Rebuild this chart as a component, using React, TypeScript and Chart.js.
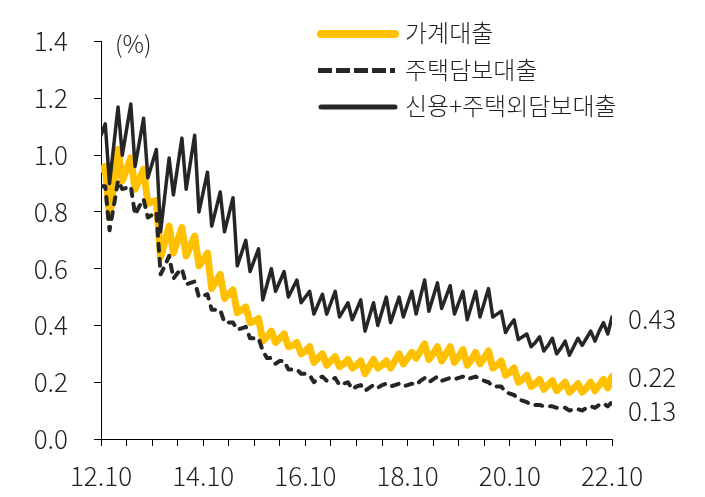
import React, { useEffect, useRef } from 'react';
import { Chart, registerables } from 'chart.js';

Chart.register(...registerables);

const seriesNames = ['가계대출', '주택담보대출', '신용+주택외담보대출'];
const xTickLabels = ['12.10', '14.10', '16.10', '18.10', '20.10', '22.10'];
const unitLabel = '(%)';

// monthly values, 2012.10 .. 2022.10
const household = [
  0.95, 0.96, 0.78,
  0.90, 1.02, 0.91, 0.95, 0.99, 0.88, 0.915, 0.95, 0.83,
  0.835, 0.84, 0.64, 0.695, 0.75, 0.655, 0.70, 0.745, 0.645, 0.68, 0.715, 0.61,
  0.63, 0.655, 0.53, 0.555, 0.58, 0.495, 0.51, 0.525, 0.445, 0.455, 0.465, 0.41,
  0.415, 0.425, 0.345, 0.36, 0.38, 0.34, 0.355, 0.37, 0.325, 0.33, 0.34, 0.30,
  0.31, 0.325, 0.27, 0.285, 0.30, 0.26, 0.275, 0.29, 0.255, 0.265, 0.28, 0.25,
  0.26, 0.275, 0.23, 0.255, 0.28, 0.25, 0.26, 0.275, 0.25, 0.275, 0.30, 0.265,
  0.285, 0.305, 0.285, 0.31, 0.335, 0.28, 0.30, 0.325, 0.275, 0.30, 0.325, 0.27,
  0.29, 0.315, 0.26, 0.28, 0.305, 0.265, 0.285, 0.31, 0.25, 0.26, 0.275, 0.225,
  0.235, 0.25, 0.20, 0.21, 0.225, 0.185, 0.195, 0.21, 0.175, 0.19, 0.205, 0.17,
  0.185, 0.20, 0.165, 0.18, 0.195, 0.165, 0.18, 0.20, 0.17, 0.19, 0.21, 0.18,
  0.22,
];

const mortgage = [
  0.89, 0.89, 0.735,
  0.82, 0.91, 0.88, 0.885, 0.89, 0.79, 0.82, 0.845, 0.78,
  0.79, 0.80, 0.58, 0.61, 0.645, 0.565, 0.585, 0.60, 0.545, 0.55, 0.555, 0.50,
  0.505, 0.51, 0.455, 0.455, 0.455, 0.41, 0.41, 0.41, 0.385, 0.39, 0.395, 0.355,
  0.355, 0.355, 0.31, 0.285, 0.285, 0.265, 0.275, 0.275, 0.245, 0.245, 0.245, 0.23,
  0.23, 0.225, 0.20, 0.215, 0.22, 0.205, 0.21, 0.215, 0.19, 0.195, 0.20, 0.175,
  0.185, 0.19, 0.17, 0.18, 0.19, 0.18, 0.19, 0.195, 0.185, 0.19, 0.195, 0.185,
  0.19, 0.195, 0.19, 0.205, 0.215, 0.20, 0.21, 0.22, 0.205, 0.21, 0.215, 0.21,
  0.215, 0.22, 0.21, 0.215, 0.22, 0.21, 0.205, 0.20, 0.185, 0.185, 0.185, 0.165,
  0.16, 0.155, 0.14, 0.135, 0.13, 0.12, 0.12, 0.12, 0.115, 0.115, 0.115, 0.11,
  0.11, 0.11, 0.10, 0.105, 0.105, 0.10, 0.11, 0.115, 0.11, 0.12, 0.125, 0.115,
  0.13,
];

const creditOther = [
  1.07, 1.11, 0.90,
  1.035, 1.17, 1.00, 1.09, 1.18, 0.96, 1.045, 1.13, 0.92,
  0.97, 1.02, 0.73, 0.86, 0.99, 0.86, 0.96, 1.06, 0.88, 0.975, 1.07, 0.80,
  0.87, 0.94, 0.75, 0.81, 0.87, 0.73, 0.79, 0.85, 0.61, 0.655, 0.70, 0.59,
  0.63, 0.67, 0.49, 0.545, 0.60, 0.52, 0.555, 0.59, 0.50, 0.53, 0.56, 0.48,
  0.50, 0.52, 0.44, 0.475, 0.51, 0.44, 0.48, 0.52, 0.43, 0.455, 0.48, 0.42,
  0.455, 0.49, 0.38, 0.43, 0.48, 0.40, 0.45, 0.50, 0.41, 0.455, 0.50, 0.43,
  0.475, 0.52, 0.44, 0.50, 0.56, 0.45, 0.50, 0.55, 0.46, 0.50, 0.54, 0.44,
  0.48, 0.52, 0.42, 0.47, 0.52, 0.43, 0.48, 0.53, 0.43, 0.44, 0.45, 0.375,
  0.40, 0.42, 0.35, 0.36, 0.37, 0.325, 0.34, 0.36, 0.31, 0.33, 0.355, 0.30,
  0.32, 0.345, 0.295, 0.325, 0.355, 0.33, 0.355, 0.38, 0.345, 0.38, 0.41, 0.37,
  0.43,
];

const seriesValues = [household, mortgage, creditOther];
const seriesColors = ['#FFC000', '#262626', '#262626'];

const FONT = "'Noto Sans CJK KR', 'Noto Sans', sans-serif";
const TEXT = '#231F20';

export default function App() {
  const ref = useRef<HTMLCanvasElement>(null);

  useEffect(() => {
    const canvas = ref.current;
    if (!canvas) return;

    const toPts = (arr: number[]) => arr.map((v, i) => ({ x: i, y: v }));

    const overlay = {
      id: 'overlay',
      afterDraw(chart: any) {
        const ctx = chart.ctx as CanvasRenderingContext2D;
        const xs = chart.scales.x;
        const ys = chart.scales.y;
        ctx.save();
        ctx.fillStyle = TEXT;
        ctx.textBaseline = 'middle';
        ctx.textAlign = 'left';

        // unit label
        ctx.font = `300 24px ${FONT}`;
        ctx.fillText(unitLabel, xs.left + 14, ys.top + 2);

        // end-value labels
        ctx.font = `300 26px ${FONT}`;
        const endOffsets = [1, 9, 2];
        seriesValues.forEach((arr, k) => {
          const last = arr[arr.length - 1];
          const y = ys.getPixelForValue(last) + endOffsets[k];
          ctx.fillText(last.toFixed(2), xs.right + 16, y);
        });

        // legend
        const legendX0 = 318;
        const legendX1 = 398;
        const rowY = [34, 70.5, 107];
        const legendWidths = [8, 5, 5];
        const legendDash = [[], [14, 4], []];
        ctx.font = `300 24px ${FONT}`;
        seriesNames.forEach((name, k) => {
          ctx.save();
          ctx.strokeStyle = seriesColors[k];
          ctx.lineWidth = legendWidths[k];
          ctx.lineCap = k === 1 ? 'butt' : 'round';
          ctx.setLineDash(legendDash[k]);
          ctx.beginPath();
          ctx.moveTo(legendX0 + (k === 1 ? 0 : 3), rowY[k]);
          ctx.lineTo(legendX1 - 3, rowY[k]);
          ctx.stroke();
          ctx.restore();
          ctx.fillStyle = TEXT;
          ctx.fillText(name, legendX1 + 7, rowY[k] - 1);
        });
        ctx.restore();
      },
    };

    const chart = new Chart(canvas, {
      type: 'line',
      data: {
        datasets: [
          {
            label: seriesNames[0],
            data: toPts(household),
            borderColor: seriesColors[0],
            borderWidth: 7,
            pointRadius: 0,
            tension: 0,
            borderJoinStyle: 'round',
            borderCapStyle: 'round',
            order: 3,
          },
          {
            label: seriesNames[1],
            data: toPts(mortgage),
            borderColor: seriesColors[1],
            borderWidth: 4,
            borderDash: [7, 8],
            borderCapStyle: 'round',
            borderJoinStyle: 'round',
            pointRadius: 0,
            tension: 0,
            order: 2,
          },
          {
            label: seriesNames[2],
            data: toPts(creditOther),
            borderColor: seriesColors[2],
            borderWidth: 3.5,
            borderJoinStyle: 'round',
            borderCapStyle: 'round',
            pointRadius: 0,
            tension: 0,
            order: 1,
          },
        ],
      },
      options: {
        responsive: false,
        animation: false,
        devicePixelRatio: 1,
        layout: { padding: { left: 0, top: 36, right: 93, bottom: 0 } },
        plugins: {
          legend: { display: false },
          tooltip: { enabled: false },
          title: { display: false },
        },
        scales: {
          x: {
            type: 'linear',
            min: 0,
            max: 120,
            afterFit: (scale: any) => {
              scale.height = 58;
            },
            ticks: {
              stepSize: 6,
              autoSkip: false,
              maxRotation: 0,
              padding: 15,
              color: TEXT,
              font: { family: FONT, size: 26, weight: '300' as any },
              callback: (v: any) => {
                const n = Number(v);
                return n % 24 === 0 ? xTickLabels[n / 24] : '';
              },
            },
            grid: {
              display: true,
              drawOnChartArea: false,
              drawTicks: true,
              tickLength: 7,
              color: '#000',
              lineWidth: 1,
            },
            border: { display: true, color: '#000', width: 1 },
          },
          y: {
            type: 'linear',
            min: 0,
            max: 1.4,
            afterFit: (scale: any) => {
              scale.width = 101;
            },
            ticks: {
              stepSize: 0.2,
              padding: 26,
              color: TEXT,
              font: { family: FONT, size: 26, weight: '300' as any },
              callback: (v: any) => Number(v).toFixed(1),
            },
            grid: {
              display: true,
              drawOnChartArea: false,
              drawTicks: true,
              tickLength: 7,
              color: '#000',
              lineWidth: 1,
            },
            border: { display: true, color: '#000', width: 1 },
          },
        },
      },
      plugins: [overlay],
    });

    return () => chart.destroy();
  }, []);

  return (
    <div style={{ position: 'fixed', left: 0, top: 0, width: 705, height: 497, background: '#fff' }}>
      <canvas ref={ref} width={705} height={497} style={{ display: 'block', width: 705, height: 497 }} />
    </div>
  );
}
